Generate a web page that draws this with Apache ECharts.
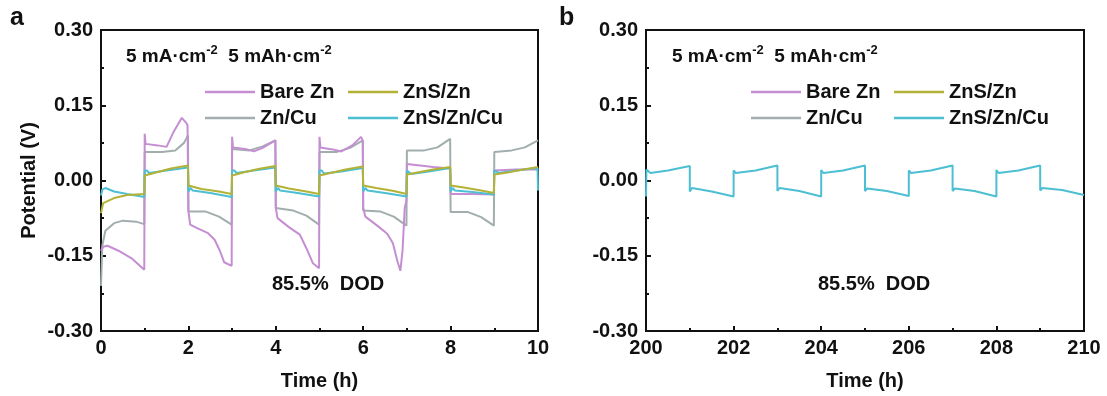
<!DOCTYPE html>
<html>
<head>
<meta charset="utf-8">
<script src="https://cdn.jsdelivr.net/npm/echarts@6/dist/echarts.min.js"></script>
<style>
  html, body { margin: 0; padding: 0; background: #fff; }
  #chart { width: 1107px; height: 396px; }
</style>
</head>
<body>
<div id="chart"></div>
<script>
// [time (h), potential (V)]
const bareZn = [
  [0, -0.14], [0.05, -0.132], [0.15, -0.13], [0.4, -0.14], [0.7, -0.155], [0.99, -0.178],
  [1, 0.093], [1.02, 0.073], [1.3, 0.07], [1.5, 0.067], [1.65, 0.095], [1.85, 0.125], [1.95, 0.115], [1.98, 0.11],
  [2, -0.06], [2.04, -0.088], [2.2, -0.095], [2.45, -0.105], [2.6, -0.118], [2.72, -0.14], [2.82, -0.163], [2.99, -0.17],
  [3, 0.087], [3.02, 0.066], [3.3, 0.063], [3.5, 0.058], [3.7, 0.065], [3.99, 0.08],
  [4, -0.055], [4.04, -0.075], [4.3, -0.093], [4.55, -0.108], [4.7, -0.135], [4.85, -0.165], [4.99, -0.175],
  [5, 0.087], [5.02, 0.066], [5.3, 0.062], [5.5, 0.058], [5.75, 0.07], [5.95, 0.087], [5.99, 0.08],
  [6, -0.055], [6.05, -0.072], [6.35, -0.092], [6.55, -0.106], [6.68, -0.125], [6.78, -0.16], [6.85, -0.18],
  [6.9, -0.14], [6.95, -0.055], [6.99, -0.04],
  [7, 0.033], [7.3, 0.03], [7.6, 0.027], [7.99, 0.024],
  [8, -0.027], [8.5, -0.027], [8.99, -0.028],
  [9, 0.02], [9.5, 0.022], [10, 0.022]
]
const znsZn = [
  [0, -0.065], [0.05, -0.045], [0.3, -0.035], [0.6, -0.029], [0.99, -0.027],
  [1, 0.01], [1.3, 0.017], [1.6, 0.024], [1.99, 0.03],
  [2, -0.01], [2.3, -0.017], [2.7, -0.022], [2.99, -0.027],
  [3, 0.01], [3.3, 0.017], [3.6, 0.023], [3.99, 0.029],
  [4, -0.01], [4.3, -0.016], [4.7, -0.022], [4.99, -0.027],
  [5, 0.01], [5.3, 0.016], [5.6, 0.022], [5.99, 0.028],
  [6, -0.01], [6.3, -0.015], [6.7, -0.021], [6.99, -0.027],
  [7, 0.012], [7.3, 0.017], [7.6, 0.022], [7.99, 0.027],
  [8, -0.01], [8.3, -0.014], [8.7, -0.02], [8.99, -0.025],
  [9, 0.012], [9.3, 0.016], [9.6, 0.021], [10, 0.027]
]
const znCu = [
  [0, -0.21], [0.03, -0.13], [0.1, -0.1], [0.3, -0.085], [0.5, -0.08], [0.8, -0.082], [0.99, -0.087],
  [1, 0.057], [1.4, 0.057], [1.7, 0.06], [1.9, 0.075], [1.99, 0.09],
  [2, -0.062], [2.4, -0.062], [2.7, -0.072], [2.99, -0.088],
  [3, 0.063], [3.4, 0.06], [3.7, 0.068], [3.99, 0.08],
  [4, -0.055], [4.4, -0.06], [4.7, -0.07], [4.99, -0.088],
  [5, 0.057], [5.4, 0.057], [5.7, 0.065], [5.99, 0.08],
  [6, -0.06], [6.4, -0.062], [6.7, -0.072], [6.99, -0.09],
  [7, 0.06], [7.4, 0.06], [7.7, 0.066], [7.99, 0.083],
  [8, -0.063], [8.4, -0.063], [8.7, -0.073], [8.99, -0.09],
  [9, 0.057], [9.4, 0.06], [9.7, 0.066], [10, 0.08]
]
const znsZnCu = [
  [0, -0.03], [0.03, -0.018], [0.1, -0.015], [0.3, -0.022], [0.6, -0.027], [0.99, -0.033],
  [1, 0.02], [1.05, 0.02], [1.1, 0.015], [1.5, 0.02], [1.99, 0.026],
  [2, -0.022], [2.05, -0.015], [2.1, -0.02], [2.5, -0.025], [2.99, -0.033],
  [3, 0.02], [3.05, 0.02], [3.1, 0.015], [3.5, 0.02], [3.99, 0.026],
  [4, -0.022], [4.05, -0.015], [4.1, -0.02], [4.5, -0.025], [4.99, -0.032],
  [5, 0.02], [5.05, 0.02], [5.1, 0.014], [5.5, 0.018], [5.99, 0.025],
  [6, -0.022], [6.05, -0.015], [6.1, -0.02], [6.5, -0.025], [6.99, -0.032],
  [7, 0.02], [7.1, 0.013], [7.5, 0.018], [7.99, 0.025],
  [8, -0.022], [8.05, -0.015], [8.1, -0.02], [8.5, -0.023], [8.99, -0.028],
  [9, 0.02], [9.1, 0.015], [9.5, 0.02], [9.99, 0.025], [10, -0.02]
]
const znsZnCuLate = [
  [200, -0.032], [200.01, 0.022], [200.1, 0.015], [200.5, 0.02], [201, 0.029],
  [201, -0.022], [201.05, -0.015], [201.5, -0.022], [202, -0.032],
  [202, 0.02], [202.05, 0.015], [202.5, 0.02], [203, 0.03],
  [203, -0.021], [203.05, -0.015], [203.5, -0.021], [204, -0.032],
  [204, 0.021], [204.05, 0.015], [204.5, 0.02], [205, 0.03],
  [205, -0.021], [205.05, -0.016], [205.5, -0.021], [206, -0.031],
  [206, 0.02], [206.05, 0.015], [206.5, 0.02], [207, 0.03],
  [207, -0.021], [207.05, -0.016], [207.5, -0.021], [208, -0.032],
  [208, 0.021], [208.05, 0.015], [208.5, 0.02], [209, 0.03],
  [209, -0.02], [209.05, -0.015], [209.5, -0.019], [210, -0.029]
]
const seriesNames = ['Bare Zn', 'ZnS/Zn', 'Zn/Cu', 'ZnS/Zn/Cu']
const seriesColors = ['#c58ed2', '#b3b237', '#a2aeae', '#4cbfd3']
const yTicks = [-0.3, 0.3, 0.15]   // min, max, interval
const xRangeA = [0, 10]
const xRangeB = [200, 210]

const font = 'Liberation Sans, Arial, sans-serif'
const ink = '#111'

const chart = echarts.init(document.getElementById('chart'))

function xAxis(grid, range, withName) {
  return {
    type: 'value', gridIndex: grid, min: range[0], max: range[1], interval: 2,
    name: withName ? 'Time (h)' : '', nameLocation: 'middle', nameGap: 40,
    nameTextStyle: { color: ink, fontSize: 20, fontWeight: 'bold', fontFamily: font },
    axisLine: { show: true, onZero: false, lineStyle: { color: ink, width: 2 } },
    axisTick: { inside: true, length: 5, lineStyle: { color: ink, width: 2 } },
    minorTick: { show: true, splitNumber: 2, length: 3, lineStyle: { color: ink, width: 2 } },
    axisLabel: { color: ink, fontSize: 20, fontWeight: 'bold', fontFamily: font, margin: 7 },
    splitLine: { show: false }
  }
}
function yAxis(grid, withName) {
  return {
    type: 'value', gridIndex: grid, min: yTicks[0], max: yTicks[1], interval: yTicks[2],
    name: withName ? 'Potential (V)' : '', nameLocation: 'middle', nameGap: 62,
    nameTextStyle: { color: ink, fontSize: 20, fontWeight: 'bold', fontFamily: font },
    axisLine: { show: true, onZero: false, lineStyle: { color: ink, width: 2 } },
    axisTick: { inside: true, length: 5, lineStyle: { color: ink, width: 2 } },
    minorTick: { show: true, splitNumber: 2, length: 3, lineStyle: { color: ink, width: 2 } },
    axisLabel: {
      color: ink, fontSize: 20, fontWeight: 'bold', fontFamily: font, margin: 8,
      formatter: v => v.toFixed(2)
    },
    splitLine: { show: false }
  }
}
function legendItem(name, left, top) {
  return {
    data: [name], left, top, icon: 'rect', itemWidth: 50, itemHeight: 2.5,
    selectedMode: false, padding: 0,
    textStyle: { color: ink, fontSize: 20, fontWeight: 'bold', fontFamily: font }
  }
}
function lineSeries(name, data, x, y) {
  const c = seriesColors[seriesNames.indexOf(name)]
  return {
    name, type: 'line', data, xAxisIndex: x, yAxisIndex: y, showSymbol: false,
    lineStyle: { color: c, width: 2 }, itemStyle: { color: c }, silent: true
  }
}
const note = (text, left, top) => ({
  text, left, top, padding: 0,
  textStyle: {
    rich: {
      n: { fontSize: 19, fontWeight: 'bold', fontFamily: font, color: ink, lineHeight: 22, verticalAlign: 'bottom' },
      s: { fontSize: 13, fontWeight: 'bold', fontFamily: font, color: ink, lineHeight: 14, verticalAlign: 'top' }
    }
  }
})
const header = '{n|5 mA·cm}{s|-2}{n|  5 mAh·cm}{s|-2}'
const off = 546

chart.setOption({
  animation: false,
  backgroundColor: '#fff',
  grid: [
    { left: 101, top: 30, width: 437, height: 303, show: true, borderColor: ink, borderWidth: 2 },
    { left: 646, top: 30, width: 438, height: 303, show: true, borderColor: ink, borderWidth: 2 }
  ],
  xAxis: [xAxis(0, xRangeA, true), xAxis(1, xRangeB, true)],
  yAxis: [yAxis(0, true), yAxis(1, false)],
  title: [
    { text: 'a', left: 10, top: 6, padding: 0, textStyle: { color: ink, fontSize: 25, fontWeight: 'bold', fontFamily: font } },
    { text: 'b', left: 559, top: 6, padding: 0, textStyle: { color: ink, fontSize: 25, fontWeight: 'bold', fontFamily: font } },
    note(header, 126, 44),
    note(header, 126 + off, 44),
    { text: '85.5%  DOD', left: 272, top: 274, padding: 0, textStyle: { color: ink, fontSize: 20, fontWeight: 'bold', fontFamily: font } },
    { text: '85.5%  DOD', left: 272 + off, top: 274, padding: 0, textStyle: { color: ink, fontSize: 20, fontWeight: 'bold', fontFamily: font } }
  ],
  legend: [
    legendItem('Bare Zn', 205, 82), legendItem('ZnS/Zn', 348, 82),
    legendItem('Zn/Cu', 205, 108), legendItem('ZnS/Zn/Cu', 348, 108),
    legendItem('Bare Zn', 205 + off, 82), legendItem('ZnS/Zn', 348 + off, 82),
    legendItem('Zn/Cu', 205 + off, 108), legendItem('ZnS/Zn/Cu', 348 + off, 108)
  ],
  series: [
    lineSeries('Zn/Cu', znCu, 0, 0),
    lineSeries('Bare Zn', bareZn, 0, 0),
    lineSeries('ZnS/Zn/Cu', znsZnCu, 0, 0),
    lineSeries('ZnS/Zn', znsZn, 0, 0),
    lineSeries('ZnS/Zn/Cu', znsZnCuLate, 1, 1)
  ]
})
</script>
</body>
</html>
